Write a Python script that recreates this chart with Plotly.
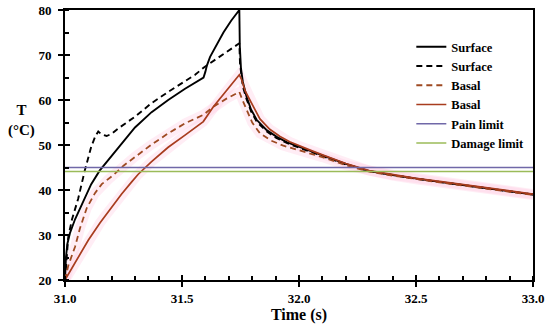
import plotly.graph_objects as go

# ---- data ----
t_surf = [31.0, 31.004, 31.01, 31.021, 31.043, 31.063, 31.085, 31.112, 31.148, 31.198, 31.228, 31.299,
          31.37, 31.441, 31.513, 31.592, 31.6, 31.606, 31.62, 31.65, 31.677, 31.71, 31.745, 31.747,
          31.752, 31.76, 31.776, 31.795, 31.819, 31.86, 31.905, 31.95, 32.0, 32.05, 32.1, 32.2, 32.3,
          32.4, 32.5, 32.6, 32.7, 32.8, 32.9, 33.0]
T_surf = [20, 25, 28, 30.4, 33.5, 35.8, 38.3, 41.3, 44.3, 47.5, 49.4, 53.9,
          57.3, 60.0, 62.5, 65.0, 66.3, 67.6, 69.6, 72.5, 75.0, 77.6, 80.0, 72.0,
          67.0, 64.0, 60.7, 57.9, 55.6, 53.4, 51.8, 50.6, 49.6, 48.7, 47.7, 45.8, 44.2,
          43.3, 42.5, 41.8, 41.1, 40.4, 39.7, 39.0]

t_surf_d = [31.0, 31.005, 31.014, 31.03, 31.056, 31.084, 31.112, 31.13, 31.142, 31.155, 31.178, 31.2,
            31.228, 31.299, 31.37, 31.441, 31.513, 31.556, 31.595, 31.67, 31.745, 31.748, 31.753,
            31.76, 31.776, 31.795, 31.819, 31.86, 31.905, 31.95, 32.0, 32.05, 32.1, 32.2, 32.3,
            32.4, 32.5, 32.6, 32.7, 32.8, 32.9, 33.0]
T_surf_d = [20, 24, 29.6, 33.5, 38.0, 44.2, 49.6, 52.0, 53.0, 52.4, 52.0, 52.5,
            53.7, 56.3, 59.3, 61.8, 64.1, 65.6, 67.3, 70.0, 72.6, 68.0, 65.5,
            63.0, 60.2, 57.5, 55.2, 53.1, 51.5, 50.4, 49.4, 48.5, 47.6, 45.7, 44.2,
            43.3, 42.5, 41.8, 41.1, 40.4, 39.7, 39.0]

t_basal_d = [31.0, 31.014, 31.043, 31.064, 31.093, 31.128, 31.157, 31.184, 31.206, 31.25, 31.299,
             31.37, 31.441, 31.513, 31.591, 31.634, 31.69, 31.745, 31.76, 31.776, 31.8, 31.833,
             31.88, 31.93, 31.97, 32.0, 32.05, 32.1, 32.2, 32.3, 32.4, 32.5, 32.6, 32.7, 32.8,
             32.9, 33.0]
T_basal_d = [20, 23.2, 27.4, 31.5, 36.0, 39.3, 41.3, 42.3, 43.3, 45.4, 47.4,
             50.1, 52.6, 54.8, 56.7, 58.5, 60.3, 61.8, 59.8, 57.8, 55.0, 52.6,
             51.0, 49.9, 49.3, 48.9, 48.1, 47.3, 45.5, 44.1, 43.2, 42.4, 41.7, 41.0, 40.3,
             39.6, 38.9]

t_basal = [31.0, 31.021, 31.043, 31.078, 31.1, 31.15, 31.171, 31.22, 31.242, 31.285, 31.313,
           31.37, 31.441, 31.513, 31.591, 31.634, 31.69, 31.745, 31.755, 31.77, 31.79, 31.833,
           31.875, 31.919, 31.96, 32.0, 32.05, 32.1, 32.2, 32.3, 32.4, 32.5, 32.6, 32.7, 32.8,
           32.9, 33.0]
T_basal = [20, 21.9, 23.8, 26.9, 28.9, 32.7, 34.2, 37.6, 39.1, 41.8, 43.5,
           46.3, 49.5, 52.2, 55.2, 58.5, 62.0, 65.6, 64.5, 62.0, 60.0, 55.8,
           53.5, 51.9, 50.7, 49.8, 48.8, 47.8, 45.9, 44.3, 43.4, 42.6, 41.9, 41.2, 40.5,
           39.8, 39.1]

t_range = [31.0, 33.0]
pain_limit = 45.0
damage_limit = 44.1

FONT = "Liberation Serif"

fig = go.Figure()

# faint pink band around the basal curves
for tx, ty in [(t_basal_d, T_basal_d), (t_basal, T_basal)]:
    fig.add_trace(go.Scatter(x=tx, y=ty, mode="lines", showlegend=False, hoverinfo="skip",
                             line=dict(color="rgba(255,190,220,0.28)", width=10)))

fig.add_trace(go.Scatter(x=t_surf, y=T_surf, mode="lines", name="Surface",
                         line=dict(color="black", width=1.9)))
fig.add_trace(go.Scatter(x=t_surf_d, y=T_surf_d, mode="lines", name="Surface",
                         line=dict(color="black", width=1.9, dash="6px,4px")))
fig.add_trace(go.Scatter(x=t_basal_d, y=T_basal_d, mode="lines", name="Basal",
                         line=dict(color="#9E4A22", width=1.8, dash="6px,4px")))
fig.add_trace(go.Scatter(x=t_basal, y=T_basal, mode="lines", name="Basal",
                         line=dict(color="#A83C1E", width=1.7)))
fig.add_trace(go.Scatter(x=t_range, y=[pain_limit, pain_limit], mode="lines", name="Pain limit",
                         line=dict(color="#7068A8", width=1.6)))
fig.add_trace(go.Scatter(x=t_range, y=[damage_limit, damage_limit], mode="lines", name="Damage limit",
                         line=dict(color="#9BBB59", width=1.6)))

# invisible trace for overlay axes (inner half of crossing ticks)
fig.add_trace(go.Scatter(x=t_range, y=[20, 80], xaxis="x2", yaxis="y2", mode="lines",
                         line=dict(color="rgba(0,0,0,0)"), showlegend=False, hoverinfo="skip"))

axis_font = dict(family=FONT, size=13, color="black", weight="bold")

fig.update_layout(
    width=550, height=330,
    margin=dict(l=65, r=17, t=10, b=50),
    paper_bgcolor="white", plot_bgcolor="white",
    font=dict(family=FONT, color="black", weight="bold"),
    xaxis=dict(range=t_range, dtick=0.5, tickformat=".1f", showgrid=False, zeroline=False,
               showline=True, linecolor="black", linewidth=2, mirror=True, automargin=False,
               ticks="outside", ticklen=5, tickwidth=1.5, tickcolor="black",
               minor=dict(ticks="inside", dtick=0.1, ticklen=4, tickwidth=1.5, tickcolor="black"),
               tickfont=axis_font,
               title=dict(text="Time (s)", font=dict(family=FONT, size=16, color="black", weight="bold"),
                          standoff=2)),
    yaxis=dict(range=[20, 80], dtick=10, showgrid=False, zeroline=False,
               showline=True, linecolor="black", linewidth=2, mirror=True, automargin=False,
               ticks="outside", ticklen=5, tickwidth=1.5, tickcolor="black",
               minor=dict(ticks="inside", dtick=5, ticklen=4, tickwidth=1.5, tickcolor="black"),
               tickfont=axis_font, ticklabelstandoff=4),
    xaxis2=dict(range=t_range, overlaying="x", anchor="y2", side="bottom", dtick=0.5,
                showgrid=False, zeroline=False, showline=False, showticklabels=False, automargin=False,
                ticks="inside", ticklen=5, tickwidth=1.5, tickcolor="black"),
    yaxis2=dict(range=[20, 80], overlaying="y", anchor="x2", side="left", dtick=10,
                showgrid=False, zeroline=False, showline=False, showticklabels=False, automargin=False,
                ticks="inside", ticklen=5, tickwidth=1.5, tickcolor="black"),
    legend=dict(x=0.74, y=0.918, xanchor="left", yanchor="top", bgcolor="rgba(0,0,0,0)",
                font=dict(family=FONT, size=12.5, color="black", weight="bold"),
                tracegroupgap=0, itemwidth=30),
    annotations=[dict(text="T<br>(°C)", xref="paper", yref="paper", x=-0.094, y=0.589,
                      showarrow=False, xanchor="center", yanchor="middle",
                      font=dict(family=FONT, size=15, color="black", weight="bold"))],
    showlegend=True,
)

fig.write_html("out.html", config={"displayModeBar": False},
               post_script="document.body.style.margin='0';")
